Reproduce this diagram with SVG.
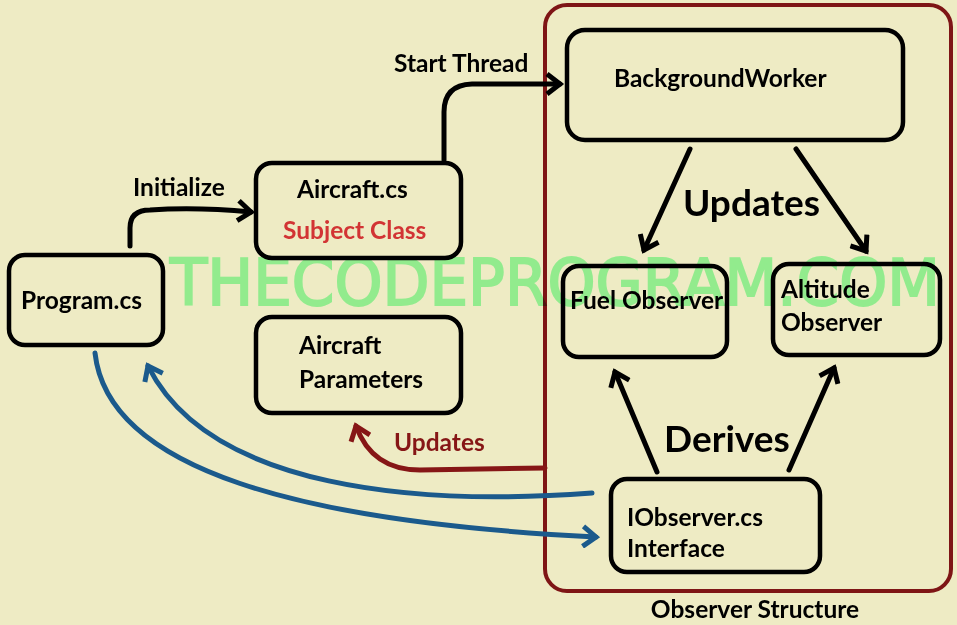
<svg xmlns="http://www.w3.org/2000/svg" width="957" height="625" viewBox="0 0 957 625">
<style>
.box{fill:none;stroke:#000;stroke-width:4.5}
.t{font-family:Lato,"Open Sans","Liberation Sans",sans-serif;font-weight:bold;fill:#000}
.s20{font-size:24.5px}
.big{font-size:37px}
.conn{fill:none;stroke-width:5;stroke-linecap:round}
.wm{mix-blend-mode:multiply}
</style>
<defs>
<marker id="ak" viewBox="0 0 24 24" refX="19" refY="12" markerWidth="24" markerHeight="24" markerUnits="userSpaceOnUse" orient="auto"><path d="M6,2 L19,12 L6,22" fill="none" stroke="#000" stroke-width="5"/></marker>
<marker id="ab" viewBox="0 0 24 24" refX="19" refY="12" markerWidth="24" markerHeight="24" markerUnits="userSpaceOnUse" orient="auto"><path d="M6,2 L19,12 L6,22" fill="none" stroke="#1B5A8C" stroke-width="5"/></marker>
<marker id="ar" viewBox="0 0 24 24" refX="19" refY="12" markerWidth="24" markerHeight="24" markerUnits="userSpaceOnUse" orient="auto"><path d="M6,2 L19,12 L6,22" fill="none" stroke="#861616" stroke-width="5"/></marker>
</defs>
<rect width="957" height="625" fill="#EEEBC4"/>

<g id="observer-structure">
<rect x="545" y="5" width="406" height="586" rx="22" fill="none" stroke="#7E1515" stroke-width="4"/>
<text class="t s20" x="755" y="618" text-anchor="middle">Observer Structure</text>
</g>

<g id="connectors">
<path class="conn" stroke="#000" d="M130,246 V228 Q130,210 150,210 C190,207 220,209 251,212" marker-end="url(#ak)"/>
<path class="conn" stroke="#000" d="M444,160 V112 Q444,85 472,84 L560,84" marker-end="url(#ak)"/>
<path class="conn" stroke="#000" d="M690,149 L644,250" marker-end="url(#ak)"/>
<path class="conn" stroke="#000" d="M796,149 L866,251" marker-end="url(#ak)"/>
<path class="conn" stroke="#000" d="M657,472 L615,372" marker-end="url(#ak)"/>
<path class="conn" stroke="#000" d="M789,470 L834,368" marker-end="url(#ak)"/>
<path class="conn" stroke="#861616" d="M545,468 L420,470 Q372,470 356,426" marker-end="url(#ar)"/>
<path class="conn" stroke="#1B5A8C" d="M592,493 C420,506 210,490 148,366" marker-end="url(#ab)"/>
<path class="conn" stroke="#1B5A8C" d="M95,353 C108,470 300,522 596,537" marker-end="url(#ab)"/>
<text class="t s20" x="133" y="196">Initialize</text>
<text class="t s20" x="394" y="72">Start Thread</text>
<text class="t big" x="683" y="216">Updates</text>
<text class="t big" x="664" y="452">Derives</text>
<text class="t s20" x="394" y="451" style="fill:#861616">Updates</text>
</g>

<g id="program">
<rect class="box" x="9" y="255" width="154" height="90" rx="16"/>
<text class="t s20" x="21" y="309">Program.cs</text>
</g>
<g id="aircraft">
<rect class="box" x="256" y="163" width="205" height="95" rx="16"/>
<text class="t s20" x="297" y="198">Aircraft.cs</text>
<text class="t s20" x="283" y="239" style="fill:#D23434">Subject Class</text>
</g>
<g id="aircraft-parameters">
<rect class="box" x="256" y="317" width="205" height="96" rx="16"/>
<text class="t s20" x="299" y="354">Aircraft</text>
<text class="t s20" x="299" y="388">Parameters</text>
</g>
<g id="background-worker">
<rect class="box" x="567" y="30" width="336" height="110" rx="18"/>
<text class="t s20" x="614" y="87">BackgroundWorker</text>
</g>
<g id="fuel-observer">
<rect class="box" x="563" y="266" width="164" height="91" rx="16"/>
<text class="t s20" x="570" y="309">Fuel Observer</text>
</g>
<g id="altitude-observer">
<rect class="box" x="773" y="264" width="167" height="91" rx="16"/>
<text class="t s20" x="781" y="298">Altitude</text>
<text class="t s20" x="781" y="331">Observer</text>
</g>
<g id="iobserver">
<rect class="box" x="611" y="479" width="209" height="93" rx="16"/>
<text class="t s20" x="627" y="526">IObserver.cs</text>
<text class="t s20" x="627" y="557">Interface</text>
</g>

<text class="wm" x="170" y="305" font-family="'DejaVu Sans',sans-serif" font-size="64" fill="#9CFFB8" stroke="#9CFFB8" stroke-width="2" textLength="770" lengthAdjust="spacingAndGlyphs">THECODEPROGRAM.COM</text>
</svg>
